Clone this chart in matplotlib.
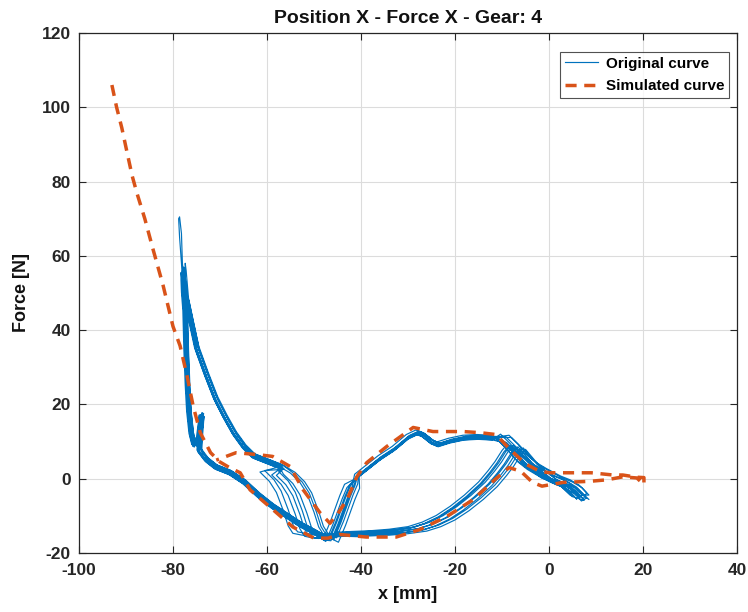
import matplotlib
matplotlib.use("Agg")
import matplotlib.pyplot as plt
import numpy as np

plt.rcParams['font.family'] = ['Liberation Sans', 'DejaVu Sans']
plt.rcParams['axes.unicode_minus'] = False

# ---------------- Data ----------------
# Original curve: one measured cycle split in segments (x [mm], F [N])
seg_return_x = [6.5, 5.0, 3.0, 1.0, -2.0, -4.0, -6.0, -8.0, -10.0]
seg_return_f = [-5.0, -3.0, -1.5, -0.5, 1.5, 3.0, 5.0, 8.0, 10.5]

seg_upper_mid_x = [-12.0, -15.0, -18.0, -21.0, -23.5, -25.0, -27.0, -28.0, -30.0,
                   -33.0, -36.0, -39.0, -41.0]
seg_upper_mid_f = [11.0, 11.2, 11.0, 10.2, 9.2, 10.0, 12.0, 12.4, 11.2,
                   8.0, 5.5, 2.5, 0.5]

seg_climb_x = [-42.5, -43.5, -44.5, -45.5, -46.5, -47.0]
seg_climb_f = [-2.0, -5.0, -8.5, -12.0, -15.0, -16.5]

seg_lower_left_x = [-48.0, -50.0, -53.0, -56.0, -59.0, -62.0, -65.0, -68.0, -71.0,
                    -73.0, -74.5, -74.3, -74.0, -74.6, -75.6, -76.2, -76.7, -77.0,
                    -77.3, -77.5, -77.8]
seg_lower_left_f = [-16.0, -14.5, -12.5, -10.0, -7.5, -4.5, -1.0, 1.5, 3.0,
                    5.0, 7.5, 12.0, 17.0, 11.0, 9.0, 12.0, 18.0, 25.0,
                    35.0, 45.0, 50.0]

# Top of the stroke: one cycle reaches the high peak, the others stay lower
seg_top_high_x = [-78.2, -78.6, -78.8, -78.6, -78.2, -78.0]
seg_top_high_f = [58.0, 65.0, 70.0, 70.5, 66.0, 58.0]
seg_top_low_x = [-77.9, -77.9, -77.7]
seg_top_low_f = [53.0, 55.0, 53.0]

seg_upper_left_x = [-77.2, -76.2, -75.0, -73.0, -71.0, -69.0, -67.0, -65.0, -63.0,
                    -60.0, -57.0]
seg_upper_left_f = [48.0, 42.0, 35.0, 28.0, 21.5, 16.5, 12.0, 8.5, 6.0,
                    4.5, 3.0]

seg_descent_x = [-55.0, -53.0, -51.5, -50.0, -49.0, -48.0, -46.0]
seg_descent_f = [1.5, -1.0, -4.0, -9.0, -13.0, -15.0, -15.5]

seg_lower_mid_x = [-43.0, -40.0, -36.0, -32.0, -28.0, -25.0, -22.0, -19.0, -16.0,
                   -13.0, -11.0, -9.5, -8.0, -7.0, -6.0, -4.0, -2.0, 0.0, 2.0,
                   4.0, 6.5]
seg_lower_mid_f = [-15.0, -14.8, -14.6, -14.2, -13.5, -12.3, -10.5, -8.0, -5.0,
                   -1.5, 1.5, 4.0, 7.0, 8.5, 7.0, 4.0, 2.0, 0.0, -1.0,
                   -2.0, -5.0]

# Per-cycle spread seen between the repeated measurement cycles
cyc_top = ['high', 'low', 'low', 'low', 'low', 'low', 'low', 'low', 'low']
cyc_top_df = [0.0, 1.5, -2.0, 3.0, -1.0, 0.5, 2.0, -3.0, 1.0]
cyc_return_dx = [0.0, 0.8, -0.6, 1.5, -1.2, 0.4, 2.0, -0.3, 1.0]
cyc_return_df = [0.0, 0.8, -0.5, 1.2, 0.3, -1.0, 0.6, 1.5, -0.8]
cyc_upper_df = [0.0, 0.4, -0.5, 0.2, 0.7, -0.3, 0.1, -0.6, 0.3]
cyc_climb_dx = [0.0, 1.0, -0.5, 1.8, 0.6, -1.0, 2.2, 0.3, 1.2]
cyc_left_dx = [0.0, 0.3, -0.2, 0.5, 0.1, -0.4, 0.2, 0.6, -0.1]
cyc_left_df = [0.0, 0.4, -0.3, 0.6, -0.5, 0.2, 0.8, -0.2, 0.3]
cyc_descent_dx = [0.0, -2.5, -4.0, 1.0, -5.5, -1.5, 0.5, -3.0, -6.5]
cyc_lower_dx = [0.0, -1.2, 0.8, -2.0, 1.5, -0.6, 2.0, -1.6, 0.4]
cyc_lower_df = [0.0, 0.3, -0.4, 0.6, -0.2, 0.5, -0.6, 0.2, 0.1]

# Simulated curve (x [mm], F [N])
sim_x = [-93.0, -92.0, -90.9, -89.8, -88.7, -87.7, -86.0, -84.3, -82.1, -80.0,
         -78.5, -77.0, -75.7, -74.2, -72.0, -70.0, -68.0, -65.7, -63.6, -59.4,
         -54.5, -50.0, -47.0, -44.6, -38.9, -32.5, -27.5, -21.8, -16.2, -11.3,
         -8.5, -6.0, -3.5, -1.5, 3.0, 8.7, 12.3, 15.7, 18.7, 20.2, 20.2, 18.7,
         15.7, 13.6, 9.0, 6.0, 0.2, -2.0, -5.0, -8.3, -11.3, -14.7, -18.3,
         -24.7, -28.9, -34.5, -38.8, -40.9, -43.0, -45.0, -46.6, -48.7, -52.3,
         -55.1, -58.8, -62.0, -66.6, -70.8]
sim_f = [106.0, 100.0, 94.5, 88.0, 81.6, 77.0, 70.0, 62.0, 52.0, 41.0,
         35.8, 27.6, 19.5, 12.4, 7.0, 4.5, 3.0, 1.6, -3.0, -7.6,
         -13.0, -16.0, -16.0, -15.0, -15.7, -15.7, -13.7, -10.2, -5.7, 0.0,
         3.0, 2.0, -1.0, -2.0, -1.0, -0.7, -0.3, 0.5, 0.2, -1.6, 0.3, 0.4,
         1.0, 1.0, 1.6, 1.6, 1.6, 2.0, 4.0, 7.9, 11.9, 12.4, 12.7,
         12.7, 13.8, 8.7, 4.3, 0.5, -5.7, -9.5, -12.0, -9.2, -3.0,
         3.3, 6.0, 6.5, 7.0, 5.0]

xticks = [-100, -80, -60, -40, -20, 0, 20, 40]
yticks = [-20, 0, 20, 40, 60, 80, 100, 120]

BLUE = '#0072BD'
ORANGE = '#D95319'
DARK = '#262626'

# ---------------- Figure ----------------
fig = plt.figure(figsize=(7.48, 6.12), dpi=100)
ax = fig.add_axes([79 / 748, 1 - 553 / 612, (737 - 79) / 748, (553 - 33) / 612])

ox, of = [], []
for i in range(len(cyc_return_dx)):
    if cyc_top[i] == 'high':
        top = (seg_top_high_x, seg_top_high_f, cyc_left_dx[i], 0.0)
    else:
        top = (seg_top_low_x, seg_top_low_f, cyc_left_dx[i], cyc_top_df[i])
    parts = [
        (seg_return_x, seg_return_f, cyc_return_dx[i], cyc_return_df[i]),
        (seg_upper_mid_x, seg_upper_mid_f, 0.3 * cyc_return_dx[i], cyc_upper_df[i]),
        (seg_climb_x, seg_climb_f, cyc_climb_dx[i], cyc_lower_df[i]),
        (seg_lower_left_x, seg_lower_left_f, cyc_left_dx[i], cyc_left_df[i]),
        top,
        (seg_upper_left_x, seg_upper_left_f, cyc_left_dx[i], cyc_left_df[i]),
        (seg_descent_x, seg_descent_f, cyc_descent_dx[i], cyc_upper_df[i]),
        (seg_lower_mid_x, seg_lower_mid_f, cyc_lower_dx[i], cyc_lower_df[i]),
    ]
    for xs, fs, dx, df in parts:
        ox.extend(np.asarray(xs) + dx)
        of.extend(np.asarray(fs) + df)

ax.plot(ox, of, color=BLUE, lw=0.85, label='Original curve', zorder=3)
ax.plot(sim_x, sim_f, color=ORANGE, lw=2.5, ls=(0, (3.2, 2.2)),
        label='Simulated curve', zorder=4)

ax.set_xlim(-100, 40)
ax.set_ylim(-20, 120)
ax.set_xticks(xticks)
ax.set_yticks(yticks)
ax.grid(True, color='#dcdcdc', lw=0.8)
ax.set_axisbelow(True)
ax.tick_params(direction='in', top=True, right=True, length=5, width=0.8,
               colors=DARK, labelsize=12.5)
ax.tick_params(axis='x', pad=7)
ax.tick_params(axis='y', pad=6)
for lab in ax.get_xticklabels() + ax.get_yticklabels():
    lab.set_fontweight('bold')
for s in ax.spines.values():
    s.set_color(DARK)
    s.set_linewidth(0.9)

ax.set_title('Position X - Force X - Gear: 4', fontsize=14, fontweight='bold',
             color='#111111', pad=7)
ax.set_xlabel('x [mm]', fontsize=13, fontweight='bold', labelpad=6, color='#111111')
ax.set_ylabel('Force [N]', fontsize=13, fontweight='bold', labelpad=8, color='#111111')

leg = ax.legend(loc='upper right', bbox_to_anchor=(0.988, 0.963), fontsize=11,
                frameon=True, fancybox=False, edgecolor=DARK,
                handlelength=2.2, borderpad=0.3, labelspacing=0.55,
                handletextpad=0.5, borderaxespad=0.0)
leg.get_frame().set_linewidth(0.8)
for t in leg.get_texts():
    t.set_fontweight('bold')

fig.savefig('out.png', dpi=100)
